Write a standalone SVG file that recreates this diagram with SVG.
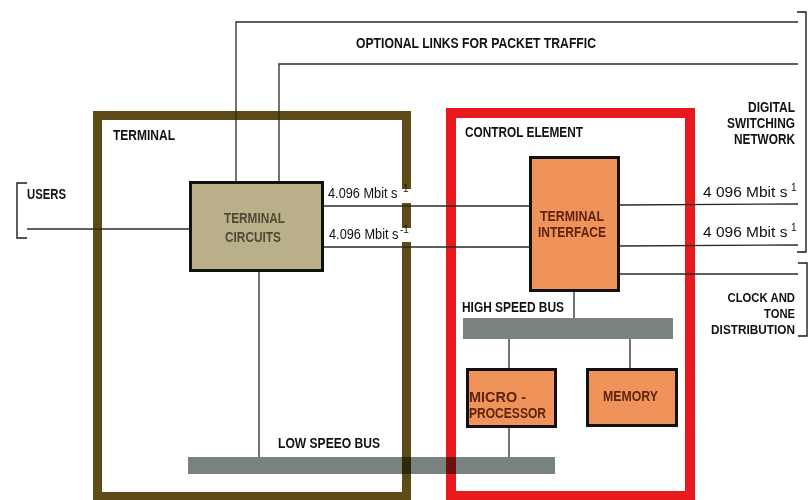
<svg xmlns="http://www.w3.org/2000/svg" width="811" height="500" viewBox="0 0 811 500">
<style>
.ln{stroke:#2a2a2a;stroke-width:1.3;fill:none}
.br{stroke:#1a1a1a;stroke-width:1.4;fill:none}
.lbl{font-family:"Liberation Sans",Arial,sans-serif;font-size:14.5px;font-weight:bold;fill:#111}
.sm{font-size:13.5px}
.rate{font-family:"Liberation Sans",Arial,sans-serif;font-size:14.5px;fill:#111}
.sup{font-family:"Liberation Sans",Arial,sans-serif;font-size:10px;fill:#111}
.end{text-anchor:end}
.box{stroke:#111;stroke-width:3}
.bus{fill:#78827f;mix-blend-mode:multiply}
.tcTxt{fill:#4d4a33}
.orTxt{fill:#5e2410}
</style>
<rect width="811" height="500" fill="#fff"/>

<g id="terminal">
  <rect x="97.5" y="115.5" width="309" height="381" fill="none" stroke="#5f4b17" stroke-width="9"/>
  <text class="lbl" x="113" y="140" textLength="62" lengthAdjust="spacingAndGlyphs">TERMINAL</text>
</g>
<g id="control-element">
  <rect x="451" y="113" width="239" height="383" fill="none" stroke="#e81a1e" stroke-width="10"/>
  <text class="lbl" x="465" y="137" textLength="118" lengthAdjust="spacingAndGlyphs">CONTROL ELEMENT</text>
</g>

<g id="connectors">
  <polyline class="ln" points="236,181 236,22 798,22"/>
  <polyline class="ln" points="279,181 279,64 798,64"/>
  <line class="ln" x1="27" y1="229" x2="189" y2="229"/>
  <line class="ln" x1="323" y1="206" x2="529" y2="206"/>
  <line class="ln" x1="323" y1="247" x2="529" y2="247"/>
  <line class="ln" x1="619" y1="205" x2="798" y2="204"/>
  <line class="ln" x1="619" y1="246" x2="798" y2="245"/>
  <line class="ln" x1="619" y1="274" x2="798" y2="274"/>
  <line class="ln" x1="574" y1="291" x2="574" y2="318"/>
  <line class="ln" x1="509" y1="339" x2="509" y2="368"/>
  <line class="ln" x1="630" y1="339" x2="630" y2="368"/>
  <line class="ln" x1="509" y1="427" x2="509" y2="457"/>
  <line class="ln" x1="259" y1="271" x2="259" y2="457"/>
</g>

<g id="users">
  <polyline class="br" points="27,183 17,183 17,238 27,238"/>
  <text class="lbl" x="27" y="199" textLength="39" lengthAdjust="spacingAndGlyphs">USERS</text>
</g>

<g id="optional-links">
  <text class="lbl" x="356" y="48" textLength="240" lengthAdjust="spacingAndGlyphs">OPTIONAL LINKS FOR PACKET TRAFFIC</text>
</g>

<g id="digital-switching-network">
  <polyline class="br" points="797,12 806,12 806,252 797,252"/>
  <text class="lbl end" x="795" y="112" textLength="47" lengthAdjust="spacingAndGlyphs">DIGITAL</text>
  <text class="lbl end" x="795" y="128" textLength="68" lengthAdjust="spacingAndGlyphs">SWITCHING</text>
  <text class="lbl end" x="795" y="144" textLength="61" lengthAdjust="spacingAndGlyphs">NETWORK</text>
  <text class="rate" transform="translate(703,197) scale(1.07,1)">4 096 Mbit s</text>
  <text class="sup" x="791" y="191">1</text>
  <text class="rate" transform="translate(703,237) scale(1.07,1)">4 096 Mbit s</text>
  <text class="sup" x="791" y="231">1</text>
</g>

<g id="clock-tone">
  <polyline class="br" points="798,263 807,263 807,336 798,336"/>
  <text class="lbl sm end" transform="translate(795,302) scale(0.84,1)">CLOCK AND</text>
  <text class="lbl sm end" transform="translate(795,318) scale(0.83,1)">TONE</text>
  <text class="lbl sm end" transform="translate(795,334) scale(0.875,1)">DISTRIBUTION</text>
</g>

<g id="rate-labels">
  <rect x="397" y="189" width="17" height="14" fill="#fff"/>
  <rect x="397" y="228" width="17" height="14" fill="#fff"/>
  <text class="rate" transform="translate(328,198) scale(0.88,1)">4.096 Mbit s</text>
  <text class="sup" x="403" y="192">1</text>
  <text class="rate" transform="translate(329,239) scale(0.88,1)">4.096 Mbit s</text>
  <text class="sup" x="400" y="233">-1</text>
</g>

<g id="terminal-circuits">
  <rect class="box" x="190.5" y="182.5" width="132" height="88" fill="#b9b08a"/>
  <text class="lbl tcTxt" x="224" y="223" textLength="61" lengthAdjust="spacingAndGlyphs">TERMINAL</text>
  <text class="lbl tcTxt" x="225" y="242" textLength="56" lengthAdjust="spacingAndGlyphs">CIRCUITS</text>
</g>

<g id="terminal-interface">
  <rect class="box" x="530.5" y="157.5" width="88" height="133" fill="#f0935a"/>
  <text class="lbl orTxt" x="540" y="221" textLength="64" lengthAdjust="spacingAndGlyphs">TERMINAL</text>
  <text class="lbl orTxt" x="538" y="237" textLength="68" lengthAdjust="spacingAndGlyphs">INTERFACE</text>
</g>

<g id="high-speed-bus">
  <rect class="bus" x="463" y="318" width="210" height="21"/>
  <text class="lbl" x="462" y="312" textLength="102" lengthAdjust="spacingAndGlyphs">HIGH SPEED BUS</text>
</g>

<g id="microprocessor">
  <rect class="box" x="467.5" y="369.5" width="88" height="57" fill="#f0935a"/>
  <text class="lbl orTxt" x="469" y="402" textLength="57" lengthAdjust="spacingAndGlyphs">MICRO -</text>
  <text class="lbl orTxt" x="469" y="418" textLength="77" lengthAdjust="spacingAndGlyphs">PROCESSOR</text>
</g>

<g id="memory">
  <rect class="box" x="587.5" y="369.5" width="89" height="56" fill="#f0935a"/>
  <text class="lbl orTxt" x="603" y="401" textLength="55" lengthAdjust="spacingAndGlyphs">MEMORY</text>
</g>

<g id="low-speed-bus">
  <rect class="bus" x="188" y="457" width="367" height="17"/>
  <text class="lbl" x="278" y="448" textLength="102" lengthAdjust="spacingAndGlyphs">LOW SPEEO BUS</text>
</g>
</svg>
